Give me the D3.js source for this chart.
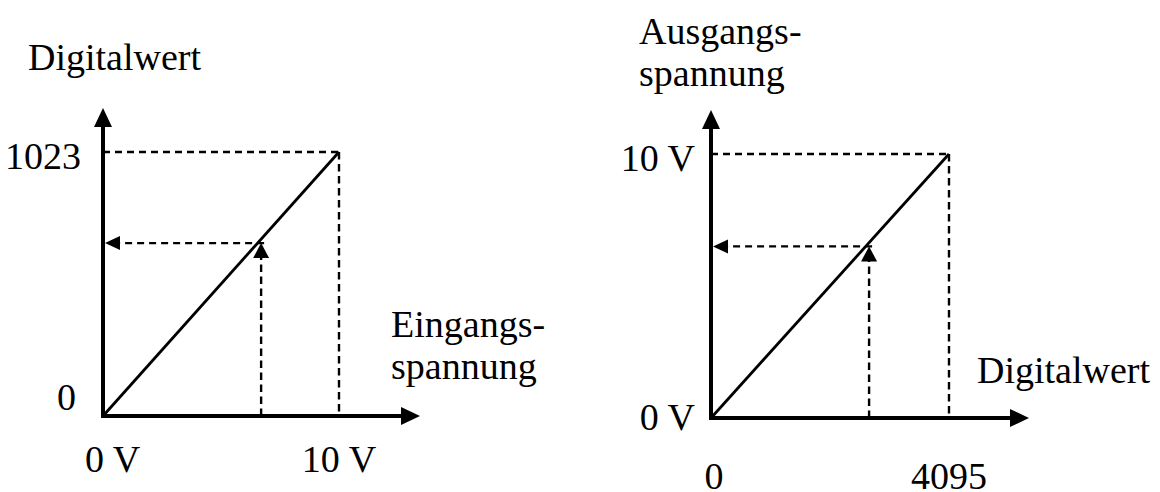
<!DOCTYPE html>
<html>
<head>
<meta charset="utf-8">
<script src="https://cdn.jsdelivr.net/npm/d3@7"></script>
<style>
  html, body { margin: 0; padding: 0; background: #fff; }
  svg text { font-family: "Liberation Serif", "Times New Roman", serif; font-size: 38px; fill: #000; }
</style>
</head>
<body>
<svg id="chart" width="1160" height="492"></svg>
<script>
// ADC: Eingangsspannung (V) -> Digitalwert
const adcInput = [0, 10];
const adcOutput = [0, 1023];
const adcMark = [6.7, 670];      // example reading (V, digital)
const adcXLabels = ["0 V", "10 V"];
const adcYLabels = ["0", "1023"];

// DAC: Digitalwert -> Ausgangsspannung (V)
const dacInput = [0, 4095];
const dacOutput = [0, 10];
const dacMark = [2720, 6.5];     // example reading (digital, V)
const dacXLabels = ["0", "4095"];
const dacYLabels = ["0 V", "10 V"];

const svg = d3.select("#chart");

function arrowHead(g, x, y, dir, len, half) {
    // dir: "up", "right", "left"
    let pts;
    if (dir === "up") pts = [[x, y], [x - half, y + len], [x + half, y + len]];
    else if (dir === "right") pts = [[x, y], [x - len, y - half], [x - len, y + half]];
    else pts = [[x, y], [x + len, y - half], [x + len, y + half]];
    g.append("polygon")
        .attr("points", pts.map(p => p.join(",")).join(" "))
        .attr("fill", "#000");
}

function drawPanel(opts) {
    const g = svg.append("g");
    const x = d3.scaleLinear().domain(opts.xDomain).range([opts.ox, opts.ox + opts.w]);
    const y = d3.scaleLinear().domain(opts.yDomain).range([opts.oy, opts.oy - opts.h]);

    const x0 = x(opts.xDomain[0]), x1 = x(opts.xDomain[1]);
    const y0 = y(opts.yDomain[0]), y1 = y(opts.yDomain[1]);
    const mx = x(opts.mark[0]), my = y(opts.mark[1]);

    // dashed guide lines to the full-scale point
    g.append("line")
        .attr("x1", x0).attr("y1", y1).attr("x2", x1).attr("y2", y1)
        .attr("stroke", "#000").attr("stroke-width", 2.4).attr("stroke-dasharray", "7,5");
    g.append("line")
        .attr("x1", x1).attr("y1", y1).attr("x2", x1).attr("y2", y0)
        .attr("stroke", "#000").attr("stroke-width", 2.4).attr("stroke-dasharray", "7.5,4.5");

    // characteristic line
    const line = d3.line().x(d => x(d[0])).y(d => y(d[1]));
    g.append("path")
        .datum([[opts.xDomain[0], opts.yDomain[0]], [opts.xDomain[1], opts.yDomain[1]]])
        .attr("d", line)
        .attr("fill", "none").attr("stroke", "#000").attr("stroke-width", 2.8);

    // example reading: up to the line, then across to the y axis
    g.append("line")
        .attr("x1", mx).attr("y1", y0).attr("x2", mx).attr("y2", my + 14)
        .attr("stroke", "#000").attr("stroke-width", 2.4).attr("stroke-dasharray", "7.5,4.5");
    arrowHead(g, mx, my, "up", 15, 8);
    g.append("line")
        .attr("x1", mx + 3).attr("y1", my).attr("x2", x0 + 15).attr("y2", my)
        .attr("stroke", "#000").attr("stroke-width", 2.4).attr("stroke-dasharray", "7,5");
    arrowHead(g, x0 + 2, my, "left", 15, 7);

    // axes
    g.append("line")
        .attr("x1", x0).attr("y1", y0 + 2).attr("x2", x0).attr("y2", y1 - opts.yOver + 18)
        .attr("stroke", "#000").attr("stroke-width", 4);
    arrowHead(g, x0, y1 - opts.yOver, "up", 19, 9);
    g.append("line")
        .attr("x1", x0 - 2).attr("y1", y0).attr("x2", x1 + opts.xOver - 18).attr("y2", y0)
        .attr("stroke", "#000").attr("stroke-width", 4);
    arrowHead(g, x1 + opts.xOver, y0, "right", 19, 9);

    return { g, x, y };
}

// left panel: ADC
const adc = drawPanel({
    xDomain: adcInput, yDomain: adcOutput, mark: adcMark,
    ox: 103, oy: 416, w: 236, h: 264, yOver: 44, xOver: 81
});
adc.g.append("text").attr("x", adc.x(adcInput[0]) - 75).attr("y", 70).text("Digitalwert");
adc.g.append("text").attr("x", adc.x(adcInput[0]) - 22).attr("y", adc.y(adcOutput[1]) + 17)
    .attr("text-anchor", "end").text(adcYLabels[1]);
adc.g.append("text").attr("x", adc.x(adcInput[0]) - 27).attr("y", adc.y(adcOutput[0]) - 6)
    .attr("text-anchor", "end").text(adcYLabels[0]);
adc.g.append("text").attr("x", adc.x(adcInput[0]) - 18).attr("y", 472).text(adcXLabels[0]);
adc.g.append("text").attr("x", adc.x(adcInput[1])).attr("y", 472)
    .attr("text-anchor", "middle").text(adcXLabels[1]);
adc.g.append("text").attr("x", 391).attr("y", 337).text("Eingangs-");
adc.g.append("text").attr("x", 391).attr("y", 379).text("spannung");

// right panel: DAC
const dac = drawPanel({
    xDomain: dacInput, yDomain: dacOutput, mark: dacMark,
    ox: 711, oy: 418, w: 238, h: 264, yOver: 44, xOver: 80
});
dac.g.append("text").attr("x", 639).attr("y", 44).text("Ausgangs-");
dac.g.append("text").attr("x", 639).attr("y", 86).text("spannung");
dac.g.append("text").attr("x", dac.x(dacInput[0]) - 16).attr("y", dac.y(dacOutput[1]) + 17)
    .attr("text-anchor", "end").text(dacYLabels[1]);
dac.g.append("text").attr("x", dac.x(dacInput[0]) - 16).attr("y", dac.y(dacOutput[0]) + 12)
    .attr("text-anchor", "end").text(dacYLabels[0]);
dac.g.append("text").attr("x", dac.x(dacInput[0]) + 3).attr("y", 489)
    .attr("text-anchor", "middle").text(dacXLabels[0]);
dac.g.append("text").attr("x", dac.x(dacInput[1])).attr("y", 489)
    .attr("text-anchor", "middle").text(dacXLabels[1]);
dac.g.append("text").attr("x", 977).attr("y", 383).text("Digitalwert");
</script>
</body>
</html>
